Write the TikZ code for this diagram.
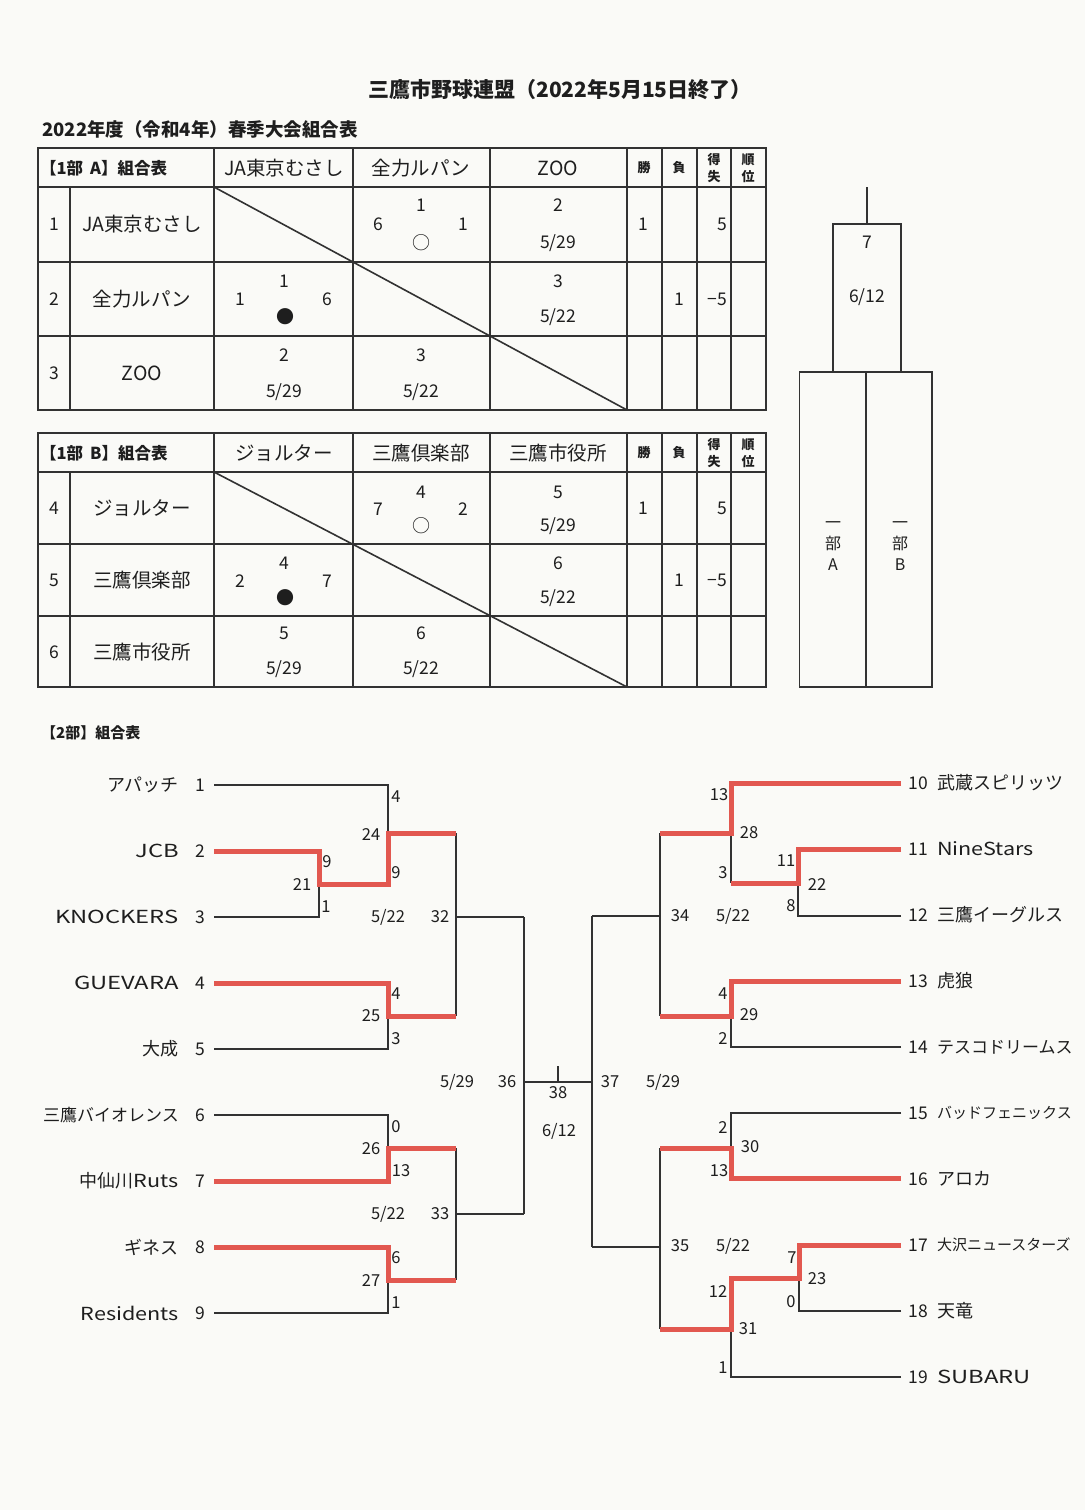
\documentclass[tikz,border=0pt]{standalone}
\usepackage{fontspec}
\setmainfont{Noto Sans CJK JP}
\newfontfamily\medfont{Noto Sans CJK JP}
\newfontfamily\widefont{Noto Sans CJK JP}[FakeStretch=1.2]
\newfontfamily\capfont{Noto Sans CJK JP}[FakeStretch=1.32]
\newcommand\myfs[1]{\fontsize{#1}{#1}\selectfont}
\definecolor{bgc}{RGB}{250,250,247}
\definecolor{lc}{RGB}{50,50,50}
\definecolor{tc}{RGB}{30,30,30}
\definecolor{rc}{RGB}{226,88,80}
\tikzset{
  tbl/.style={draw=lc, line width=1.8pt},
  brk/.style={draw=lc, line width=1.4pt},
  win/.style={draw=rc, line width=5pt},
  tx/.style={inner sep=0pt, text=tc},
  hd/.style={tx, font=\medfont\myfs{19.5}},
  hdb/.style={tx, font=\bfseries\myfs{16.5}},
  sm/.style={tx, font=\bfseries\fontsize{13}{17}\selectfont, align=center},
  num/.style={tx, font=\medfont\myfs{17.5}},
  sc/.style={tx, font=\medfont\myfs{16.5}},
  mk/.style={tx, font=\medfont\myfs{18}},
  tm/.style={tx, font=\medfont\myfs{18}},
  tmw/.style={tx, font=\widefont\myfs{18}},
  tmc/.style={tx, font=\capfont\myfs{18}},
}
\begin{document}
\begin{tikzpicture}[x=1pt,y=-1pt]
\fill[bgc] (0,0) rectangle (1085,1510);
\useasboundingbox (0,0) rectangle (1085,1510);

% titles
\node[tx, font=\bfseries\myfs{21}] (title) at (560,90) {三鷹市野球連盟（2022年5月15日終了）};
\node[tx, font=\bfseries\myfs{18.5}, anchor=west] (sub) at (42,129) {2022年度（令和4年）春季大会組合表};

% ================= Table A =================
\draw[tbl] (38,148) rectangle (766,410);
\foreach \yy in {187,262,336} \draw[tbl] (38,\yy) -- (766,\yy);
\draw[tbl] (70,187) -- (70,410);
\foreach \xx in {214,353,490,627,662,697,731} \draw[tbl] (\xx,148) -- (\xx,410);
\draw[brk, line width=1.6pt] (214,187) -- (627,410);

\node[hdb, anchor=west] (ahd) at (40,168) {【1部\hspace{7pt}A】組合表};
\node[hd] (ah1) at (284,168) {JA東京むさし};
\node[hd] (ah2) at (421,168) {全力ルパン};
\node[hd] (ah3) at (558,168) {ZOO};
\node[sm] (ahw) at (644,168) {勝};
\node[sm] (ahl) at (679,168) {負};
\node[sm] (ahd2) at (714,168) {得\\失};
\node[sm] (ahr) at (748,168) {順\\位};

\node[num] (an1) at (54,224) {1};
\node[hd] (at1) at (142,224) {JA東京むさし};
\node[num] (a12g) at (421,205) {1};
\node[num] (a12a) at (378,224) {6};
\node[num] (a12b) at (463,224) {1};
\node[mk] (a12m) at (421,243) {○};
\node[num] (a13g) at (558,205) {2};
\node[num] (a13d) at (558,243) {5/29};
\node[num] (a1w) at (643,224) {1};
\node[num, anchor=east] (a1p) at (727,224) {5};

\node[num] (an2) at (54,299) {2};
\node[hd] (at2) at (142,299) {全力ルパン};
\node[num] (a21g) at (284,281) {1};
\node[num] (a21a) at (240,299) {1};
\node[num] (a21b) at (327,299) {6};
\node[mk] (a21m) at (285,317) {●};
\node[num] (a23g) at (558,281) {3};
\node[num] (a23d) at (558,317) {5/22};
\node[num] (a2l) at (679,299) {1};
\node[num, anchor=east] (a2p) at (727,299) {−5};

\node[num] (an3) at (54,373) {3};
\node[hd] (at3) at (142,373) {ZOO};
\node[num] (a31g) at (284,355) {2};
\node[num] (a31d) at (284,392) {5/29};
\node[num] (a32g) at (421,355) {3};
\node[num] (a32d) at (421,392) {5/22};

% ================= Table B =================
\draw[tbl] (38,433) rectangle (766,687);
\foreach \yy in {472,544,616} \draw[tbl] (38,\yy) -- (766,\yy);
\draw[tbl] (70,472) -- (70,687);
\foreach \xx in {214,353,490,627,662,697,731} \draw[tbl] (\xx,433) -- (\xx,687);
\draw[brk, line width=1.6pt] (214,472) -- (627,687);

\node[hdb, anchor=west] (bhd) at (40,453) {【1部\hspace{7pt}B】組合表};
\node[hd] (bh1) at (284,453) {ジョルター};
\node[hd] (bh2) at (421,453) {三鷹倶楽部};
\node[hd] (bh3) at (558,453) {三鷹市役所};
\node[sm] (bhw) at (644,453) {勝};
\node[sm] (bhl) at (679,453) {負};
\node[sm] (bhd2) at (714,453) {得\\失};
\node[sm] (bhr) at (748,453) {順\\位};

\node[num] (bn4) at (54,508) {4};
\node[hd] (bt4) at (142,508) {ジョルター};
\node[num] (b45g) at (421,492) {4};
\node[num] (b45a) at (378,509) {7};
\node[num] (b45b) at (463,509) {2};
\node[mk] (b45m) at (421,526) {○};
\node[num] (b46g) at (558,492) {5};
\node[num] (b46d) at (558,526) {5/29};
\node[num] (b4w) at (643,508) {1};
\node[num, anchor=east] (b4p) at (727,508) {5};

\node[num] (bn5) at (54,580) {5};
\node[hd] (bt5) at (142,580) {三鷹倶楽部};
\node[num] (b54g) at (284,563) {4};
\node[num] (b54a) at (240,581) {2};
\node[num] (b54b) at (327,581) {7};
\node[mk] (b54m) at (285,598) {●};
\node[num] (b56g) at (558,563) {6};
\node[num] (b56d) at (558,598) {5/22};
\node[num] (b5l) at (679,580) {1};
\node[num, anchor=east] (b5p) at (727,580) {−5};

\node[num] (bn6) at (54,652) {6};
\node[hd] (bt6) at (142,652) {三鷹市役所};
\node[num] (b64g) at (284,633) {5};
\node[num] (b64d) at (284,669) {5/29};
\node[num] (b65g) at (421,633) {6};
\node[num] (b65d) at (421,669) {5/22};

% ================= 1部 final =================
\node[tbl, minimum width=68pt, minimum height=148pt, inner sep=0pt] (fbox) at (867,298) {};
\node[tbl, minimum width=67pt, minimum height=315pt, inner sep=0pt] (fboxA) at (833,529.5) {};
\node[tbl, minimum width=66pt, minimum height=315pt, inner sep=0pt] (fboxB) at (899,529.5) {};
\coordinate (ftop) at (867,187);
\draw[tbl] (ftop) -- (fbox.north);
\node[num] (f7) at (867,242) {7};
\node[num] (fd) at (867,297) {6/12};
\node[tx, font=\medfont\fontsize{16}{21}\selectfont, align=center] (fa) at (833,546) {一\\部\\A};
\node[tx, font=\medfont\fontsize{16}{21}\selectfont, align=center] (fb) at (900,546) {一\\部\\B};

% ================= 2部 =================
\node[hdb, font=\bfseries\myfs{15}, anchor=west] (hd2) at (41,733) {【2部】組合表};

% black lines left
\draw[brk] (214,785) -- (388,785) -- (388,833);
\draw[brk] (214,917) -- (319,917) -- (319,884);
\draw[brk] (456,833) -- (456,1016);
\draw[brk] (456,917) -- (524,917);
\draw[brk] (214,1049) -- (388,1049) -- (388,1016);
\draw[brk] (214,1115) -- (388,1115) -- (388,1148);
\draw[brk] (456,1148) -- (456,1280);
\draw[brk] (456,1214) -- (524,1214);
\draw[brk] (214,1313) -- (388,1313) -- (388,1280);
% center
\draw[brk] (524,917) -- (524,1214);
\draw[brk] (592,916) -- (592,1247);
\draw[brk] (524,1082) -- (592,1082);
\draw[brk] (558,1082) -- (558,1066);
% black lines right
\draw[brk] (731,883) -- (731,833);
\draw[brk] (901,916) -- (798,916) -- (798,883);
\draw[brk] (660,833) -- (660,1016);
\draw[brk] (660,916) -- (592,916);
\draw[brk] (901,1047) -- (731,1047) -- (731,1016);
\draw[brk] (901,1113) -- (731,1113) -- (731,1148);
\draw[brk] (660,1148) -- (660,1329);
\draw[brk] (660,1247) -- (592,1247);
\draw[brk] (901,1311) -- (799,1311) -- (799,1278);
\draw[brk] (901,1377) -- (731,1377) -- (731,1329);

% red winner lines
\draw[win] (214,851) -- (319,851) -- (319,884) -- (388,884) -- (388,833) -- (456,833);
\draw[win] (214,983) -- (388,983) -- (388,1016) -- (456,1016);
\draw[win] (214,1181) -- (388,1181) -- (388,1148) -- (456,1148);
\draw[win] (214,1247) -- (388,1247) -- (388,1280) -- (456,1280);
\draw[win] (901,783) -- (731,783) -- (731,833) -- (660,833);
\draw[win] (901,849) -- (798,849) -- (798,883) -- (731,883);
\draw[win] (901,981) -- (731,981) -- (731,1016) -- (660,1016);
\draw[win] (901,1178) -- (731,1178) -- (731,1148) -- (660,1148);
\draw[win] (901,1245) -- (799,1245) -- (799,1278) -- (731,1278) -- (731,1329) -- (660,1329);

% left team labels
\node[tm, anchor=east] (L1) at (179,785) {アパッチ};
\node[tmc, anchor=east] (L2) at (179,851) {JCB};
\node[tmc, anchor=east] (L3) at (179,917) {KNOCKERS};
\node[tmc, anchor=east] (L4) at (179,983) {GUEVARA};
\node[tm, anchor=east] (L5) at (179,1049) {大成};
\node[tx, font=\medfont\myfs{17}, anchor=east] (L6) at (179,1115) {三鷹バイオレンス};
\node[tm, anchor=east] (L7) at (179,1181) {中仙川{\widefont Ruts}};
\node[tm, anchor=east] (L8) at (179,1247) {ギネス};
\node[tmw, anchor=east] (L9) at (179,1313) {Residents};
\foreach \i/\yy in {1/785,2/851,3/917,4/983,5/1049,6/1115,7/1181,8/1247,9/1313}
  \node[num] (LN\i) at (200,\yy) {\i};

% right team labels
\foreach \i/\yy in {10/783,11/849,12/915,13/981,14/1047,15/1113,16/1179,17/1245,18/1311,19/1377}
  \node[num] (RN\i) at (918,\yy) {\i};
\node[tm, anchor=west] (R10) at (937,783) {武蔵スピリッツ};
\node[tmw, anchor=west] (R11) at (937,849) {NineStars};
\node[tm, anchor=west] (R12) at (937,915) {三鷹イーグルス};
\node[tm, anchor=west] (R13) at (937,981) {虎狼};
\node[tx, font=\medfont\myfs{17}, anchor=west] (R14) at (937,1047) {テスコドリームス};
\node[tx, font=\medfont\myfs{15}, anchor=west] (R15) at (937,1113) {バッドフェニックス};
\node[tm, anchor=west] (R16) at (937,1179) {アロカ};
\node[tx, font=\medfont\myfs{15}, anchor=west] (R17) at (937,1245) {大沢ニュースターズ};
\node[tm, anchor=west] (R18) at (937,1311) {天竜};
\node[tmc, anchor=west] (R19) at (937,1377) {SUBARU};

% left scores
\node[sc] (s1) at (396,797) {4};
\node[sc] (s2) at (371,834) {24};
\node[sc] (s3) at (327,862) {9};
\node[sc] (s4) at (302,884) {21};
\node[sc] (s5) at (326,907) {1};
\node[sc] (s6) at (396,873) {9};
\node[sc] (s7) at (388,917) {5/22};
\node[sc] (s8) at (440,917) {32};
\node[sc] (s9) at (396,994) {4};
\node[sc] (s10) at (371,1016) {25};
\node[sc] (s11) at (396,1039) {3};
\node[sc] (s12) at (457,1082) {5/29};
\node[sc] (s13) at (507,1082) {36};
\node[sc] (s14) at (558,1093) {38};
\node[sc] (s15) at (559,1131) {6/12};
\node[sc] (s16) at (396,1127) {0};
\node[sc] (s17) at (371,1149) {26};
\node[sc] (s18) at (401,1171) {13};
\node[sc] (s19) at (388,1214) {5/22};
\node[sc] (s20) at (440,1214) {33};
\node[sc] (s21) at (396,1258) {6};
\node[sc] (s22) at (371,1280) {27};
\node[sc] (s23) at (396,1303) {1};

% right scores
\node[sc] (r1) at (719,795) {13};
\node[sc] (r2) at (749,833) {28};
\node[sc] (r3) at (723,873) {3};
\node[sc] (r4) at (786,861) {11};
\node[sc] (r5) at (817,884) {22};
\node[sc] (r6) at (791,906) {8};
\node[sc] (r7) at (680,916) {34};
\node[sc] (r8) at (733,916) {5/22};
\node[sc] (r9) at (723,994) {4};
\node[sc] (r10) at (749,1015) {29};
\node[sc] (r11) at (723,1038) {2};
\node[sc] (r12) at (610,1082) {37};
\node[sc] (r13) at (663,1082) {5/29};
\node[sc] (r14) at (723,1127) {2};
\node[sc] (r15) at (750,1147) {30};
\node[sc] (r16) at (719,1171) {13};
\node[sc] (r17) at (680,1246) {35};
\node[sc] (r18) at (733,1246) {5/22};
\node[sc] (r19) at (792,1258) {7};
\node[sc] (r20) at (817,1279) {23};
\node[sc] (r21) at (791,1302) {0};
\node[sc] (r22) at (718,1291) {12};
\node[sc] (r23) at (748,1329) {31};
\node[sc] (r24) at (723,1368) {1};
\end{tikzpicture}
\end{document}
